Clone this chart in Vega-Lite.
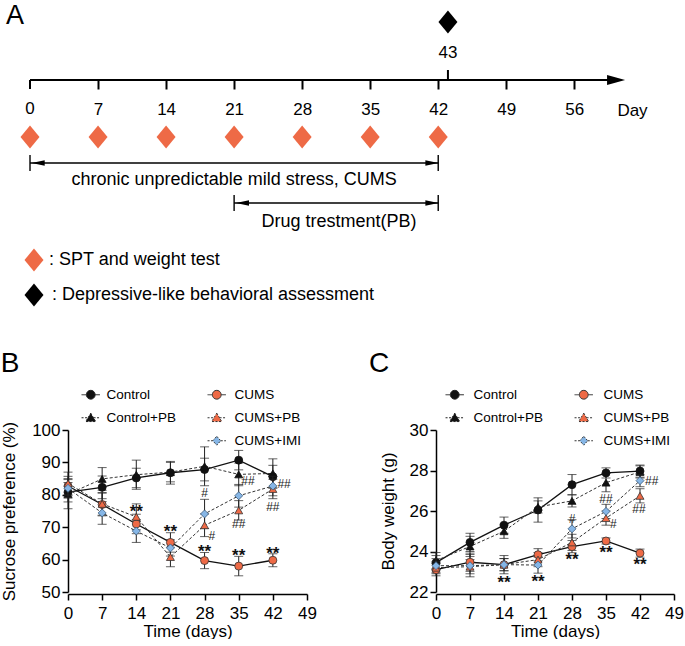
{
  "$schema": "https://vega.github.io/schema/vega-lite/v6.json",
  "padding": 0,
  "background": "white",
  "config": {
    "font": "Liberation Sans",
    "view": {"stroke": null},
    "axis": {"labelColor": "black", "titleColor": "black", "domainColor": "black", "tickColor": "black", "titleFontWeight": "normal", "grid": false, "labelFontSize": 17, "titleFontSize": 17, "tickSize": 6, "tickWidth": 1.5, "domainWidth": 1.5, "labelPadding": 2, "labelFlush": false, "labelOverlap": false},
    "legend": {"labelColor": "black", "labelFontSize": 13.5},
    "title": {"color": "black"}
  },
  "datasets": {
    "sp": [
      {"group": "Control", "day": 0, "v": 80.8, "sem": 3},
      {"group": "Control", "day": 7, "v": 82.3, "sem": 3.5},
      {"group": "Control", "day": 14, "v": 85.2, "sem": 3},
      {"group": "Control", "day": 21, "v": 86.8, "sem": 3.5},
      {"group": "Control", "day": 28, "v": 87.8, "sem": 3.5},
      {"group": "Control", "day": 35, "v": 90.7, "sem": 3},
      {"group": "Control", "day": 42, "v": 85.6, "sem": 3.5},
      {"group": "Control+PB", "day": 0, "v": 80.2, "sem": 4.5},
      {"group": "Control+PB", "day": 7, "v": 84.9, "sem": 3.5},
      {"group": "Control+PB", "day": 14, "v": 86.2, "sem": 4.5},
      {"group": "Control+PB", "day": 21, "v": 87.0, "sem": 3},
      {"group": "Control+PB", "day": 28, "v": 88.8, "sem": 6},
      {"group": "Control+PB", "day": 35, "v": 86.3, "sem": 3.5},
      {"group": "Control+PB", "day": 42, "v": 86.6, "sem": 4.5},
      {"group": "CUMS", "day": 0, "v": 82.7, "sem": 3},
      {"group": "CUMS", "day": 7, "v": 77.0, "sem": 3.5},
      {"group": "CUMS", "day": 14, "v": 71.0, "sem": 3},
      {"group": "CUMS", "day": 21, "v": 65.3, "sem": 3},
      {"group": "CUMS", "day": 28, "v": 59.7, "sem": 2.5},
      {"group": "CUMS", "day": 35, "v": 58.0, "sem": 3},
      {"group": "CUMS", "day": 42, "v": 59.8, "sem": 2},
      {"group": "CUMS+PB", "day": 0, "v": 83.5, "sem": 3.5},
      {"group": "CUMS+PB", "day": 7, "v": 77.2, "sem": 3.5},
      {"group": "CUMS+PB", "day": 14, "v": 73.2, "sem": 4},
      {"group": "CUMS+PB", "day": 21, "v": 60.8, "sem": 3},
      {"group": "CUMS+PB", "day": 28, "v": 70.6, "sem": 3.5},
      {"group": "CUMS+PB", "day": 35, "v": 75.2, "sem": 3},
      {"group": "CUMS+PB", "day": 42, "v": 81.8, "sem": 3},
      {"group": "CUMS+IMI", "day": 0, "v": 82.0, "sem": 3},
      {"group": "CUMS+IMI", "day": 7, "v": 74.4, "sem": 3.5},
      {"group": "CUMS+IMI", "day": 14, "v": 68.8, "sem": 3.5},
      {"group": "CUMS+IMI", "day": 21, "v": 63.6, "sem": 2.5},
      {"group": "CUMS+IMI", "day": 28, "v": 74.1, "sem": 4.5},
      {"group": "CUMS+IMI", "day": 35, "v": 79.7, "sem": 3.5},
      {"group": "CUMS+IMI", "day": 42, "v": 82.7, "sem": 3}
    ],
    "bw": [
      {"group": "Control", "day": 0, "v": 23.45, "sem": 0.35},
      {"group": "Control", "day": 7, "v": 24.45, "sem": 0.45},
      {"group": "Control", "day": 14, "v": 25.3, "sem": 0.4},
      {"group": "Control", "day": 21, "v": 26.05, "sem": 0.6},
      {"group": "Control", "day": 28, "v": 27.3, "sem": 0.5},
      {"group": "Control", "day": 35, "v": 27.88, "sem": 0.25},
      {"group": "Control", "day": 42, "v": 27.97, "sem": 0.3},
      {"group": "Control+PB", "day": 0, "v": 23.55, "sem": 0.4},
      {"group": "Control+PB", "day": 7, "v": 24.25, "sem": 0.5},
      {"group": "Control+PB", "day": 14, "v": 25.0, "sem": 0.35},
      {"group": "Control+PB", "day": 21, "v": 26.2, "sem": 0.3},
      {"group": "Control+PB", "day": 28, "v": 26.5, "sem": 0.3},
      {"group": "Control+PB", "day": 35, "v": 27.4, "sem": 0.45},
      {"group": "Control+PB", "day": 42, "v": 27.93, "sem": 0.3},
      {"group": "CUMS", "day": 0, "v": 23.1, "sem": 0.3},
      {"group": "CUMS", "day": 7, "v": 23.47, "sem": 0.45},
      {"group": "CUMS", "day": 14, "v": 23.35, "sem": 0.45},
      {"group": "CUMS", "day": 21, "v": 23.84, "sem": 0.3},
      {"group": "CUMS", "day": 28, "v": 24.24, "sem": 0.3},
      {"group": "CUMS", "day": 35, "v": 24.52, "sem": 0.15},
      {"group": "CUMS", "day": 42, "v": 23.92, "sem": 0.2},
      {"group": "CUMS+PB", "day": 0, "v": 23.2, "sem": 0.3},
      {"group": "CUMS+PB", "day": 7, "v": 23.25, "sem": 0.35},
      {"group": "CUMS+PB", "day": 14, "v": 23.35, "sem": 0.3},
      {"group": "CUMS+PB", "day": 21, "v": 23.6, "sem": 0.35},
      {"group": "CUMS+PB", "day": 28, "v": 24.45, "sem": 0.4},
      {"group": "CUMS+PB", "day": 35, "v": 25.65, "sem": 0.35},
      {"group": "CUMS+PB", "day": 42, "v": 26.75, "sem": 0.35},
      {"group": "CUMS+IMI", "day": 0, "v": 23.3, "sem": 0.35},
      {"group": "CUMS+IMI", "day": 7, "v": 23.3, "sem": 0.55},
      {"group": "CUMS+IMI", "day": 14, "v": 23.35, "sem": 0.3},
      {"group": "CUMS+IMI", "day": 21, "v": 23.33, "sem": 0.4},
      {"group": "CUMS+IMI", "day": 28, "v": 25.12, "sem": 0.45},
      {"group": "CUMS+IMI", "day": 35, "v": 25.98, "sem": 0.35},
      {"group": "CUMS+IMI", "day": 42, "v": 27.5, "sem": 0.3}
    ],
    "spAnn": [
      {"day": 14, "v": 75.8, "label": "**"},
      {"day": 21, "v": 69.7, "label": "**"},
      {"day": 28, "v": 63.6, "label": "**"},
      {"day": 35, "v": 62.5, "label": "**"},
      {"day": 42, "v": 63.1, "label": "**"},
      {"day": 28, "v": 80.5, "label": "#"},
      {"day": 29.5, "v": 67.2, "label": "#"},
      {"day": 36.9, "v": 84.3, "label": "##"},
      {"day": 35, "v": 71, "label": "##"},
      {"day": 44.3, "v": 83.2, "label": "##"},
      {"day": 42, "v": 76.2, "label": "##"}
    ],
    "bwAnn": [
      {"day": 14, "v": 22.66, "label": "**"},
      {"day": 21, "v": 22.7, "label": "**"},
      {"day": 28, "v": 23.76, "label": "**"},
      {"day": 35, "v": 24.12, "label": "**"},
      {"day": 42, "v": 23.54, "label": "**"},
      {"day": 28, "v": 25.62, "label": "#"},
      {"day": 35, "v": 26.6, "label": "##"},
      {"day": 36.5, "v": 25.37, "label": "#"},
      {"day": 44.4, "v": 27.5, "label": "##"},
      {"day": 41.8, "v": 26.11, "label": "##"}
    ],
    "tlAxis": [
      {"day": 0, "day2": 59.5, "level": 80, "level2": 80},
      {"day": 43, "day2": 43, "level": 70, "level2": 80}
    ],
    "tlBars": [
      {"day": 0, "day2": 42, "level": 163, "level2": 163},
      {"day": 0, "day2": 0, "level": 155, "level2": 171},
      {"day": 42, "day2": 42, "level": 155, "level2": 171},
      {"day": 21, "day2": 42, "level": 203, "level2": 203},
      {"day": 21, "day2": 21, "level": 195, "level2": 211},
      {"day": 42, "day2": 42, "level": 195, "level2": 211}
    ],
    "tlHeads": [
      {"dir": "left", "day": 0.84, "level": 163},
      {"dir": "right", "day": 41.35, "level": 163},
      {"dir": "left", "day": 21.86, "level": 203},
      {"dir": "right", "day": 41.35, "level": 203}
    ],
    "tlBigHead": [{"day": 60.3, "level": 80}],
    "tlMarks": [
      {"kind": "test", "day": 0, "level": 137},
      {"kind": "test", "day": 7, "level": 137},
      {"kind": "test", "day": 14, "level": 137},
      {"kind": "test", "day": 21, "level": 137},
      {"kind": "test", "day": 28, "level": 137},
      {"kind": "test", "day": 35, "level": 137},
      {"kind": "test", "day": 42, "level": 137},
      {"kind": "assess", "day": 43, "level": 22},
      {"kind": "test", "day": 0.41, "level": 260},
      {"kind": "assess", "day": 0.41, "level": 295}
    ],
    "tlText": [
      {"day": 21.0, "level": 180, "label": "chronic unpredictable mild stress, CUMS"},
      {"day": 31.8, "level": 222, "label": "Drug trestment(PB)"}
    ],
    "tlKey": [
      {"day": 1.95, "level": 260, "label": ": SPT and weight test"},
      {"day": 2.26, "level": 295, "label": ": Depressive-like behavioral assessment"}
    ],
    "tlSmall": [{"day": 43, "level": 53, "label": "43"}],
    "tlLetter": [{"day": -1.54, "level": 16, "label": "A"}]
  },
  "spacing": 40,
  "vconcat": [
    {
      "width": 617,
      "height": 310,
      "encoding": {
        "x": {"field": "day", "type": "quantitative", "scale": {"domain": [3.909, 67.39], "nice": false, "zero": false},
          "axis": {"orient": "bottom", "offset": -230, "values": [7, 14, 21, 28, 35, 42, 49, 56], "domain": false, "tickSize": 9, "tickWidth": 2, "labelFontSize": 17, "labelPadding": 12, "title": "Day", "titleFontSize": 17, "titleX": 564, "titleY": 35, "titleBaseline": "alphabetic", "titleAlign": "center", "titleAnchor": null}},
        "y": {"field": "level", "type": "quantitative", "scale": {"domain": [0, 310], "reverse": true, "nice": false, "zero": false}, "axis": null}
      },
      "layer": [
        {"data": {"name": "tlAxis"}, "mark": {"type": "rule", "strokeWidth": 2, "color": "black"}, "encoding": {"x2": {"field": "day2"}, "y2": {"field": "level2"}}},
        {"data": {"values": [{"day": 0, "level": 80, "level2": 89, "label": "0"}]}, "layer": [
          {"mark": {"type": "rule", "strokeWidth": 2, "color": "black"}, "encoding": {"y2": {"field": "level2"}}},
          {"mark": {"type": "text", "fontSize": 17, "align": "center", "baseline": "middle", "dy": 29, "color": "black"}, "encoding": {"text": {"field": "label"}}}
        ]},
        {"data": {"name": "tlBars"}, "mark": {"type": "rule", "strokeWidth": 1.4, "color": "black"}, "encoding": {"x2": {"field": "day2"}, "y2": {"field": "level2"}}},
        {"data": {"name": "tlBigHead"}, "mark": {"type": "point", "filled": true, "opacity": 1, "color": "black", "size": 324, "shape": "M-1,-0.55L1,0L-1,0.55Z"}},
        {"data": {"name": "tlHeads"}, "mark": {"type": "point", "filled": true, "opacity": 1, "color": "black", "size": 169},
          "encoding": {"shape": {"field": "dir", "type": "nominal", "scale": {"domain": ["left", "right"], "range": ["M-1,0L1,-0.42L1,0.42Z", "M1,0L-1,-0.42L-1,0.42Z"]}, "legend": null}}},
        {"data": {"name": "tlMarks"}, "mark": {"type": "point", "filled": true, "opacity": 1, "size": 361, "strokeWidth": 0, "shape": "M0,-1.2L1,0L0,1.2L-1,0Z"},
          "encoding": {"fill": {"field": "kind", "type": "nominal", "scale": {"domain": ["test", "assess"], "range": ["#EE6A46", "#000000"]}, "legend": null}}},
        {"data": {"name": "tlText"}, "mark": {"type": "text", "fontSize": 18, "align": "center", "baseline": "middle", "color": "black"}, "encoding": {"text": {"field": "label"}}},
        {"data": {"name": "tlKey"}, "mark": {"type": "text", "fontSize": 18, "align": "left", "baseline": "middle", "color": "black"}, "encoding": {"text": {"field": "label"}}},
        {"data": {"name": "tlSmall"}, "mark": {"type": "text", "fontSize": 17, "align": "center", "baseline": "middle", "color": "black"}, "encoding": {"text": {"field": "label"}}},
        {"data": {"name": "tlLetter"}, "mark": {"type": "text", "fontSize": 27, "align": "center", "baseline": "middle", "color": "black"}, "encoding": {"text": {"field": "label"}}}
      ]
    },
    {
      "spacing": 52,
      "hconcat": [
        {
          "width": 239,
          "height": 162,
          "title": {"text": "B", "anchor": "start", "frame": "bounds", "fontSize": 28, "fontWeight": "normal", "offset": 10},
          "encoding": {
            "x": {"field": "day", "type": "quantitative", "scale": {"domain": [0, 49], "nice": false, "zero": false},
              "axis": {"values": [0, 7, 14, 21, 28, 35, 42, 49], "title": "Time (days)", "offset": 2, "labelPadding": 5, "titlePadding": 2}},
            "y": {"field": "v", "type": "quantitative", "scale": {"domain": [50, 100], "nice": false, "zero": false},
              "axis": {"values": [50, 60, 70, 80, 90, 100], "title": "Sucrose preference (%)", "titlePadding": 13}}
          },
          "layer": [
            {"data": {"name": "sp"}, "transform": [{"filter": {"field": "group", "oneOf": ["Control", "Control+PB"]}}],
              "layer": [
                {"transform": [{"filter": {"field": "group", "equal": "Control"}}], "mark": {"type": "line", "color": "#111", "strokeWidth": 1.3}, "encoding": {"detail": {"field": "group"}}},
                {"transform": [{"filter": {"field": "group", "equal": "Control+PB"}}], "mark": {"type": "line", "color": "#333", "strokeWidth": 1, "strokeDash": [3, 2]}, "encoding": {"detail": {"field": "group"}}},
                {"mark": {"type": "errorbar", "color": "#222", "thickness": 1, "size": 9, "ticks": true}, "encoding": {"yError": {"field": "sem"}}},
                {"mark": {"type": "point", "filled": true, "size": 64, "opacity": 1, "strokeWidth": 0.8},
                  "encoding": {
                    "shape": {"field": "group", "type": "nominal", "scale": {"domain": ["Control", "Control+PB"], "range": ["circle", "triangle-up"]}, "legend": null},
                    "stroke": {"field": "group", "type": "nominal", "scale": {"domain": ["Control", "Control+PB"], "range": ["#111", "#111"]}, "legend": null},
                    "fill": {"field": "group", "type": "nominal", "scale": {"domain": ["Control", "Control+PB"], "range": ["#111", "#111"]}, "legend": null}
                  }}
              ]},
            {"data": {"name": "sp"}, "transform": [{"filter": {"field": "group", "oneOf": ["CUMS", "CUMS+PB", "CUMS+IMI"]}}],
              "layer": [
                {"transform": [{"filter": {"field": "group", "equal": "CUMS"}}], "mark": {"type": "line", "color": "#111", "strokeWidth": 1.3}, "encoding": {"detail": {"field": "group"}}},
                {"transform": [{"filter": {"field": "group", "oneOf": ["CUMS+PB", "CUMS+IMI"]}}], "mark": {"type": "line", "color": "#333", "strokeWidth": 1, "strokeDash": [3, 2]}, "encoding": {"detail": {"field": "group"}}},
                {"mark": {"type": "errorbar", "color": "#222", "thickness": 1, "size": 9, "ticks": true}, "encoding": {"yError": {"field": "sem"}}},
                {"mark": {"type": "point", "filled": true, "size": 64, "opacity": 1, "strokeWidth": 0.8},
                  "encoding": {
                    "shape": {"field": "group", "type": "nominal", "scale": {"domain": ["CUMS", "CUMS+PB", "CUMS+IMI"], "range": ["circle", "triangle-up", "diamond"]}, "legend": null},
                    "stroke": {"field": "group", "type": "nominal", "scale": {"domain": ["CUMS", "CUMS+PB", "CUMS+IMI"], "range": ["#333", "#333", "#3b5a7a"]}, "legend": null},
                    "fill": {"field": "group", "type": "nominal", "scale": {"domain": ["CUMS", "CUMS+PB", "CUMS+IMI"], "range": ["#EE6A46", "#EE6A46", "#86B6E6"]}, "legend": null}
                  }}
              ]},
            {"data": {"name": "sp"}, "transform": [{"filter": "false"}],
              "mark": {"type": "point", "filled": true, "size": 64, "opacity": 1, "stroke": "#222", "strokeWidth": 1},
              "encoding": {
                "shape": {"field": "group", "type": "nominal", "scale": {"domain": ["Control", "Control+PB"], "range": ["M-2.3,0L-1.1,0M1.1,0L2.3,0M-1.1,0A1.1,1.1,0,1,1,1.1,0A1.1,1.1,0,1,1,-1.1,0Z", "M-2.3,0L-0.7,0M0.7,0L2.3,0M0,-1.15L1.25,0.95L-1.25,0.95Z"]}},
                "strokeDash": {"field": "group", "type": "nominal", "scale": {"domain": ["Control", "Control+PB"], "range": [[1, 0], [2, 1.5]]}},
                "fill": {"field": "group", "type": "nominal", "scale": {"domain": ["Control", "Control+PB"], "range": ["#111", "#111"]},
                  "legend": {"title": null, "orient": "none", "legendX": 16, "legendY": -42, "padding": 0, "symbolSize": 64, "labelFontSize": 13.5, "labelOffset": 9, "rowPadding": 8, "symbolStrokeColor": "#222", "symbolStrokeWidth": 1, "symbolOpacity": 1}}
              }},
            {"data": {"name": "sp"}, "transform": [{"filter": "false"}],
              "mark": {"type": "point", "filled": true, "size": 64, "opacity": 1, "stroke": "#333", "strokeWidth": 1},
              "encoding": {
                "shape": {"field": "group", "type": "nominal", "scale": {"domain": ["CUMS", "CUMS+PB", "CUMS+IMI"], "range": ["M-2.3,0L-1.1,0M1.1,0L2.3,0M-1.1,0A1.1,1.1,0,1,1,1.1,0A1.1,1.1,0,1,1,-1.1,0Z", "M-2.3,0L-0.7,0M0.7,0L2.3,0M0,-1.15L1.25,0.95L-1.25,0.95Z", "M-2.3,0L-1,0M1,0L2.3,0M0,-1.1L1,0L0,1.1L-1,0Z"]}},
                "strokeDash": {"field": "group", "type": "nominal", "scale": {"domain": ["CUMS", "CUMS+PB", "CUMS+IMI"], "range": [[1, 0], [2, 1.5], [2, 1.5]]}},
                "fill": {"field": "group", "type": "nominal", "scale": {"domain": ["CUMS", "CUMS+PB", "CUMS+IMI"], "range": ["#EE6A46", "#EE6A46", "#86B6E6"]},
                  "legend": {"title": null, "orient": "none", "legendX": 142, "legendY": -42, "padding": 0, "symbolSize": 64, "labelFontSize": 13.5, "labelOffset": 11, "rowPadding": 8, "symbolStrokeColor": "#333", "symbolStrokeWidth": 1, "symbolOpacity": 1}}
              }},
            {"data": {"name": "spAnn"}, "transform": [{"filter": {"field": "label", "equal": "**"}}], "mark": {"type": "text", "fontSize": 17, "fontWeight": "bold", "baseline": "middle", "dy": 4, "color": "#111"}, "encoding": {"text": {"field": "label"}}},
            {"data": {"name": "spAnn"}, "transform": [{"filter": "datum.label !== '**'"}], "mark": {"type": "text", "fontSize": 12, "baseline": "middle", "color": "#222"}, "encoding": {"text": {"field": "label"}}}
          ],
          "resolve": {"scale": {"fill": "independent", "shape": "independent", "stroke": "independent", "strokeDash": "independent"}}
        },
        {
          "width": 238,
          "height": 162,
          "title": {"text": "C", "anchor": "start", "frame": "bounds", "fontSize": 28, "fontWeight": "normal", "offset": 10, "dx": -10},
          "encoding": {
            "x": {"field": "day", "type": "quantitative", "scale": {"domain": [0, 49], "nice": false, "zero": false},
              "axis": {"values": [0, 7, 14, 21, 28, 35, 42, 49], "title": "Time (days)", "offset": 2, "labelPadding": 5, "titlePadding": 2}},
            "y": {"field": "v", "type": "quantitative", "scale": {"domain": [22, 30], "nice": false, "zero": false},
              "axis": {"values": [22, 24, 26, 28, 30], "title": "Body weight (g)", "titlePadding": 12}}
          },
          "layer": [
            {"data": {"name": "bw"}, "transform": [{"filter": {"field": "group", "oneOf": ["Control", "Control+PB"]}}],
              "layer": [
                {"transform": [{"filter": {"field": "group", "equal": "Control"}}], "mark": {"type": "line", "color": "#111", "strokeWidth": 1.3}, "encoding": {"detail": {"field": "group"}}},
                {"transform": [{"filter": {"field": "group", "equal": "Control+PB"}}], "mark": {"type": "line", "color": "#333", "strokeWidth": 1, "strokeDash": [3, 2]}, "encoding": {"detail": {"field": "group"}}},
                {"mark": {"type": "errorbar", "color": "#222", "thickness": 1, "size": 9, "ticks": true}, "encoding": {"yError": {"field": "sem"}}},
                {"mark": {"type": "point", "filled": true, "size": 64, "opacity": 1, "strokeWidth": 0.8},
                  "encoding": {
                    "shape": {"field": "group", "type": "nominal", "scale": {"domain": ["Control", "Control+PB"], "range": ["circle", "triangle-up"]}, "legend": null},
                    "stroke": {"field": "group", "type": "nominal", "scale": {"domain": ["Control", "Control+PB"], "range": ["#111", "#111"]}, "legend": null},
                    "fill": {"field": "group", "type": "nominal", "scale": {"domain": ["Control", "Control+PB"], "range": ["#111", "#111"]}, "legend": null}
                  }}
              ]},
            {"data": {"name": "bw"}, "transform": [{"filter": {"field": "group", "oneOf": ["CUMS", "CUMS+PB", "CUMS+IMI"]}}],
              "layer": [
                {"transform": [{"filter": {"field": "group", "equal": "CUMS"}}], "mark": {"type": "line", "color": "#111", "strokeWidth": 1.3}, "encoding": {"detail": {"field": "group"}}},
                {"transform": [{"filter": {"field": "group", "oneOf": ["CUMS+PB", "CUMS+IMI"]}}], "mark": {"type": "line", "color": "#333", "strokeWidth": 1, "strokeDash": [3, 2]}, "encoding": {"detail": {"field": "group"}}},
                {"mark": {"type": "errorbar", "color": "#222", "thickness": 1, "size": 9, "ticks": true}, "encoding": {"yError": {"field": "sem"}}},
                {"mark": {"type": "point", "filled": true, "size": 64, "opacity": 1, "strokeWidth": 0.8},
                  "encoding": {
                    "shape": {"field": "group", "type": "nominal", "scale": {"domain": ["CUMS", "CUMS+PB", "CUMS+IMI"], "range": ["circle", "triangle-up", "diamond"]}, "legend": null},
                    "stroke": {"field": "group", "type": "nominal", "scale": {"domain": ["CUMS", "CUMS+PB", "CUMS+IMI"], "range": ["#333", "#333", "#3b5a7a"]}, "legend": null},
                    "fill": {"field": "group", "type": "nominal", "scale": {"domain": ["CUMS", "CUMS+PB", "CUMS+IMI"], "range": ["#EE6A46", "#EE6A46", "#86B6E6"]}, "legend": null}
                  }}
              ]},
            {"data": {"name": "bw"}, "transform": [{"filter": "false"}],
              "mark": {"type": "point", "filled": true, "size": 64, "opacity": 1, "stroke": "#222", "strokeWidth": 1},
              "encoding": {
                "shape": {"field": "group", "type": "nominal", "scale": {"domain": ["Control", "Control+PB"], "range": ["M-2.3,0L-1.1,0M1.1,0L2.3,0M-1.1,0A1.1,1.1,0,1,1,1.1,0A1.1,1.1,0,1,1,-1.1,0Z", "M-2.3,0L-0.7,0M0.7,0L2.3,0M0,-1.15L1.25,0.95L-1.25,0.95Z"]}},
                "strokeDash": {"field": "group", "type": "nominal", "scale": {"domain": ["Control", "Control+PB"], "range": [[1, 0], [2, 1.5]]}},
                "fill": {"field": "group", "type": "nominal", "scale": {"domain": ["Control", "Control+PB"], "range": ["#111", "#111"]},
                  "legend": {"title": null, "orient": "none", "legendX": 12, "legendY": -42, "padding": 0, "symbolSize": 64, "labelFontSize": 13.5, "labelOffset": 12, "rowPadding": 8, "symbolStrokeColor": "#222", "symbolStrokeWidth": 1, "symbolOpacity": 1}}
              }},
            {"data": {"name": "bw"}, "transform": [{"filter": "false"}],
              "mark": {"type": "point", "filled": true, "size": 64, "opacity": 1, "stroke": "#333", "strokeWidth": 1},
              "encoding": {
                "shape": {"field": "group", "type": "nominal", "scale": {"domain": ["CUMS", "CUMS+PB", "CUMS+IMI"], "range": ["M-2.3,0L-1.1,0M1.1,0L2.3,0M-1.1,0A1.1,1.1,0,1,1,1.1,0A1.1,1.1,0,1,1,-1.1,0Z", "M-2.3,0L-0.7,0M0.7,0L2.3,0M0,-1.15L1.25,0.95L-1.25,0.95Z", "M-2.3,0L-1,0M1,0L2.3,0M0,-1.1L1,0L0,1.1L-1,0Z"]}},
                "strokeDash": {"field": "group", "type": "nominal", "scale": {"domain": ["CUMS", "CUMS+PB", "CUMS+IMI"], "range": [[1, 0], [2, 1.5], [2, 1.5]]}},
                "fill": {"field": "group", "type": "nominal", "scale": {"domain": ["CUMS", "CUMS+PB", "CUMS+IMI"], "range": ["#EE6A46", "#EE6A46", "#86B6E6"]},
                  "legend": {"title": null, "orient": "none", "legendX": 141, "legendY": -42, "padding": 0, "symbolSize": 64, "labelFontSize": 13.5, "labelOffset": 13, "rowPadding": 8, "symbolStrokeColor": "#333", "symbolStrokeWidth": 1, "symbolOpacity": 1}}
              }},
            {"data": {"name": "bwAnn"}, "transform": [{"filter": {"field": "label", "equal": "**"}}], "mark": {"type": "text", "fontSize": 17, "fontWeight": "bold", "baseline": "middle", "dy": 4, "color": "#111"}, "encoding": {"text": {"field": "label"}}},
            {"data": {"name": "bwAnn"}, "transform": [{"filter": "datum.label !== '**'"}], "mark": {"type": "text", "fontSize": 12, "baseline": "middle", "color": "#222"}, "encoding": {"text": {"field": "label"}}}
          ],
          "resolve": {"scale": {"fill": "independent", "shape": "independent", "stroke": "independent", "strokeDash": "independent"}}
        }
      ]
    }
  ]
}
